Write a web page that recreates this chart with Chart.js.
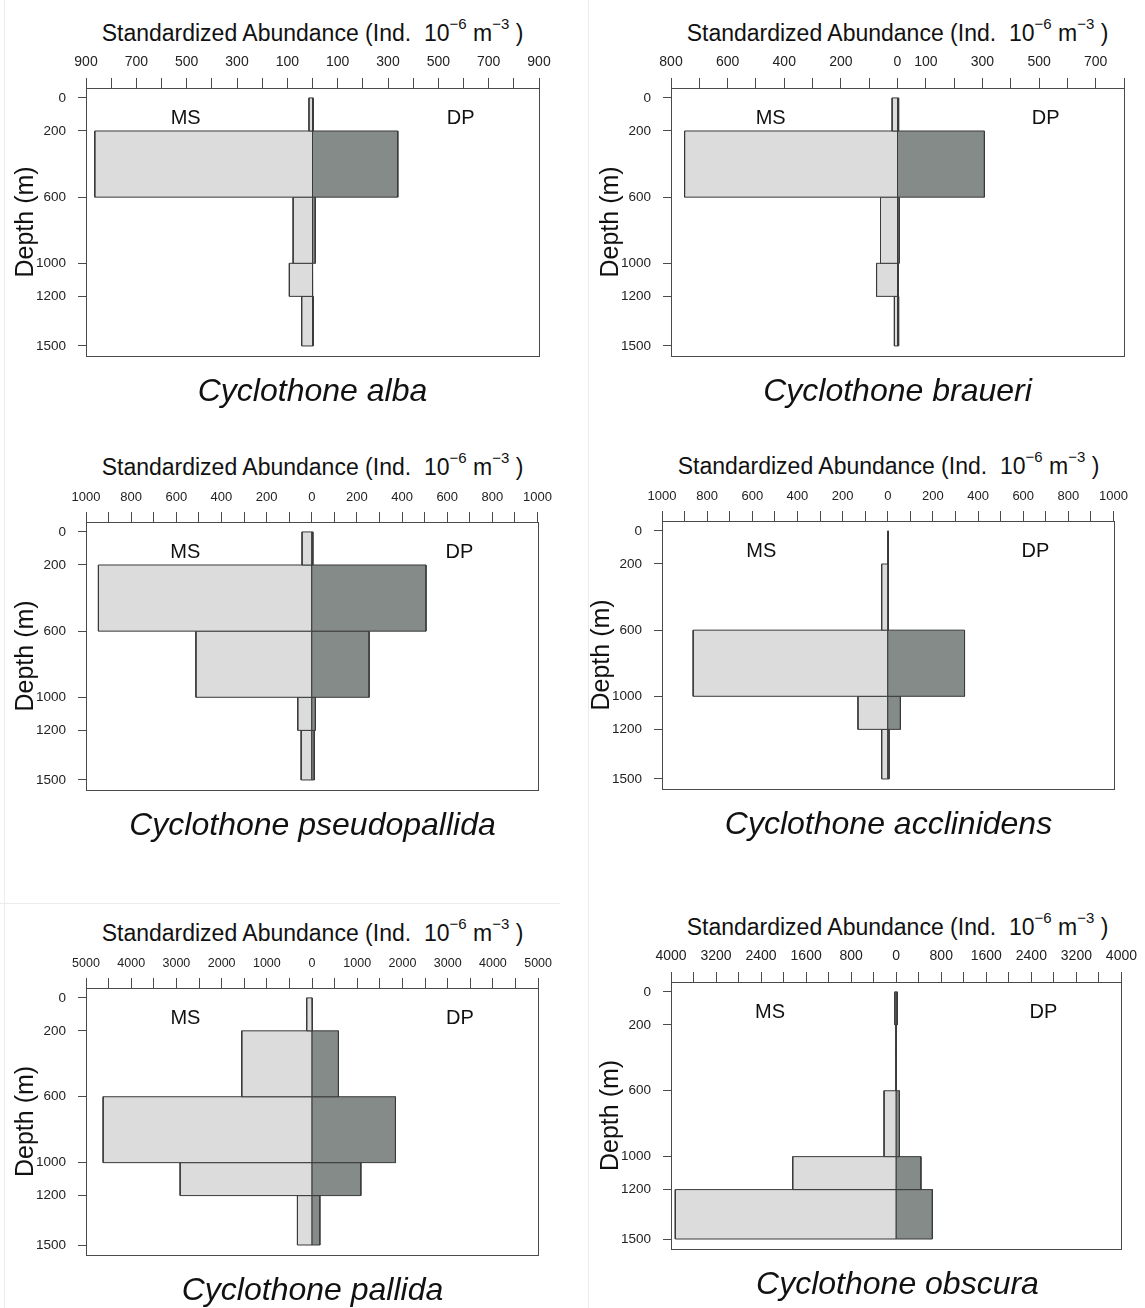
<!DOCTYPE html>
<html>
<head>
<meta charset="utf-8">
<script src="https://cdn.jsdelivr.net/npm/chart.js@4.4.0/dist/chart.umd.min.js"></script>
<style>
  body { margin: 0; background: #fff; width: 1145px; height: 1308px; position: relative; overflow: hidden;
         font-family: "Liberation Sans", Arial, sans-serif; color: #111; }
  canvas { position: absolute; }
  .title { position: absolute; font-size: 23px; line-height: 23px; white-space: nowrap; transform: translateX(-50%); }
  .title sup { font-size: 15px; line-height: 0; position: relative; top: -3px; vertical-align: super; }
  .species { position: absolute; font-size: 32px; line-height: 32px; font-style: italic; white-space: nowrap; transform: translateX(-50%); }
  .sep { position: absolute; background: #ececec; }
</style>
</head>
<body>
<script>
// Depth strata (m) and the tick marks of the depth axis
const depthTop = [0, 200, 600, 1000, 1200];
const depthBottom = [200, 600, 1000, 1200, 1500];
const depthTicks = [0, 200, 600, 1000, 1200, 1500];

const speciesNames = ['Cyclothone alba', 'Cyclothone braueri', 'Cyclothone pseudopallida',
                      'Cyclothone acclinidens', 'Cyclothone pallida', 'Cyclothone obscura'];

// Standardized abundance per stratum, MS on the left, DP on the right
const albaMS = [14, 865, 77, 92, 43];
const albaDP = [3, 339, 11, 1, 3];
const braueriMS = [19, 752, 60, 74, 11];
const braueriDP = [4, 307, 6, 3, 4];
const pseudopallidaMS = [43, 945, 513, 62, 47];
const pseudopallidaDP = [5, 506, 254, 16, 11];
const acclinidensMS = [2, 27, 862, 132, 27];
const acclinidensDP = [3, 3, 340, 56, 6];
const pallidaMS = [118, 1554, 4621, 2918, 323];
const pallidaDP = [16, 584, 1845, 1080, 173];
const obscuraMS = [25, 5, 216, 1838, 3924];
const obscuraDP = [20, 5, 57, 439, 642];

// Abundance axes: half range, tick spacing and the ticks that carry a label
const axisLimits = [900, 800, 1000, 1000, 5000, 4000];
const axisSteps = [100, 100, 100, 100, 500, 400];
const albaTickLabels = [-900, -700, -500, -300, -100, 100, 300, 500, 700, 900];
const braueriTickLabels = [-800, -600, -400, -200, 0, 100, 300, 500, 700];
const pseudopallidaTickLabels = [-1000, -800, -600, -400, -200, 0, 200, 400, 600, 800, 1000];
const acclinidensTickLabels = [-1000, -800, -600, -400, -200, 0, 200, 400, 600, 800, 1000];
const pallidaTickLabels = [-5000, -4000, -3000, -2000, -1000, 0, 1000, 2000, 3000, 4000, 5000];
const obscuraTickLabels = [-4000, -3200, -2400, -1600, -800, 0, 800, 1600, 2400, 3200, 4000];

const msSeries = [albaMS, braueriMS, pseudopallidaMS, acclinidensMS, pallidaMS, obscuraMS];
const dpSeries = [albaDP, braueriDP, pseudopallidaDP, acclinidensDP, pallidaDP, obscuraDP];
const tickLabelSets = [albaTickLabels, braueriTickLabels, pseudopallidaTickLabels,
                       acclinidensTickLabels, pallidaTickLabels, obscuraTickLabels];

// Page layout: plot box of every panel
const boxes = [
  { left: 86, top: 88, w: 453, h: 278 },
  { left: 671, top: 88, w: 453, h: 278 },
  { left: 86, top: 522, w: 453, h: 278 },
  { left: 662, top: 521, w: 453, h: 278 },
  { left: 86, top: 988, w: 453, h: 277 },
  { left: 671, top: 982, w: 453, h: 277 }
];
const tickFontSizes = [14, 14, 13, 13, 12.5, 14];

const FONT = '"Liberation Sans", Arial, sans-serif';
Chart.defaults.font.family = FONT;

const MS_FILL = '#dcdcdc';
const DP_FILL = '#848b89';
const EDGE = '#3a3a3a';
const AXIS_W = 86;   // room left of the box for depth labels and axis title
const AXIS_H = 40;   // room above the box for the abundance ticks

// Closed outline of one stratum bar, from zero out to the abundance value
function barOutline(value, top, bottom) {
  return [
    { x: 0, y: top }, { x: value, y: top }, { x: value, y: bottom },
    { x: 0, y: bottom }, { x: 0, y: top }
  ];
}

// Plot frame plus the MS / DP side labels
const framePlugin = {
  id: 'frame',
  afterDatasetsDraw(chart) {
    const { ctx, chartArea: a, scales } = chart;
    ctx.save();
    ctx.strokeStyle = '#4a4a4a';
    ctx.lineWidth = 1;
    ctx.strokeRect(Math.round(a.left) + 0.5, Math.round(a.top) + 0.5,
                   Math.round(a.right - a.left), Math.round(a.bottom - a.top));
    const x = scales.x;
    const y = scales.y;
    ctx.fillStyle = '#111';
    ctx.font = '20px ' + FONT;
    ctx.textAlign = 'center';
    ctx.textBaseline = 'middle';
    const span = x.max - x.min;
    ctx.fillText('MS', x.getPixelForValue(x.min + 0.22 * span), y.getPixelForValue(122));
    ctx.fillText('DP', x.getPixelForValue(x.min + 0.827 * span), y.getPixelForValue(122));
    ctx.restore();
  }
};

function addText(cls, html, left, top) {
  const d = document.createElement('div');
  d.className = cls;
  d.innerHTML = html;
  d.style.left = left + 'px';
  d.style.top = top + 'px';
  document.body.appendChild(d);
}

function addSep(left, top, w, h) {
  const d = document.createElement('div');
  d.className = 'sep';
  Object.assign(d.style, { left: left + 'px', top: top + 'px', width: w + 'px', height: h + 'px' });
  document.body.appendChild(d);
}

addSep(4, 0, 1, 1308);
addSep(588, 0, 1, 1308);
addSep(0, 903, 560, 1);

boxes.forEach((box, i) => {
  const lim = axisLimits[i];
  const labelled = tickLabelSets[i];

  const canvas = document.createElement('canvas');
  const cw = AXIS_W + box.w + 20;
  const ch = AXIS_H + box.h + 10;
  canvas.width = cw;
  canvas.height = ch;
  canvas.style.left = (box.left - AXIS_W) + 'px';
  canvas.style.top = (box.top - AXIS_H) + 'px';
  canvas.style.width = cw + 'px';
  canvas.style.height = ch + 'px';
  document.body.appendChild(canvas);

  const datasets = [];
  depthTop.forEach((top, k) => {
    datasets.push({
      label: 'DP ' + top + '-' + depthBottom[k],
      data: barOutline(dpSeries[i][k], top, depthBottom[k]),
      backgroundColor: DP_FILL
    });
    datasets.push({
      label: 'MS ' + top + '-' + depthBottom[k],
      data: barOutline(-msSeries[i][k], top, depthBottom[k]),
      backgroundColor: MS_FILL
    });
  });
  datasets.forEach(ds => Object.assign(ds, {
    showLine: true, fill: 'shape', borderColor: EDGE, borderWidth: 1,
    pointRadius: 0, tension: 0, clip: false
  }));

  new Chart(canvas, {
    type: 'scatter',
    data: { datasets },
    options: {
      responsive: false,
      animation: false,
      events: [],
      layout: { padding: { left: 0, top: 0, right: 20, bottom: 10 } },
      plugins: { legend: { display: false }, tooltip: { enabled: false } },
      scales: {
        x: {
          type: 'linear', position: 'top', min: -lim, max: lim,
          grid: { drawOnChartArea: false, drawTicks: true, tickLength: 10, color: '#4a4a4a', tickColor: '#4a4a4a' },
          border: { display: false },
          ticks: {
            stepSize: axisSteps[i], autoSkip: false, maxRotation: 0, minRotation: 0, padding: 7,
            color: '#222', font: { size: tickFontSizes[i] },
            callback: v => labelled.includes(v) ? String(Math.abs(v)) : ''
          },
          afterFit: s => { s.height = AXIS_H; }
        },
        y: {
          type: 'linear', reverse: true, min: -60, max: 1560,
          afterBuildTicks: s => { s.ticks = depthTicks.map(v => ({ value: v })); },
          grid: { drawOnChartArea: false, tickLength: 8, color: '#4a4a4a', tickColor: '#4a4a4a' },
          border: { display: false },
          ticks: { padding: 12, color: '#222', font: { size: 13.5 }, autoSkip: false, callback: v => String(v) },
          title: { display: true, text: 'Depth (m)', color: '#111', font: { size: 25 }, padding: { top: 11, bottom: 0 } },
          afterFit: s => { s.width = AXIS_W; }
        }
      }
    },
    plugins: [framePlugin]
  });

  const cx = box.left + box.w / 2;
  addText('title', 'Standardized Abundance (Ind.&nbsp; 10<sup>\u22126</sup> m<sup>\u22123</sup> )',
          cx, box.top - 47 - 19.5);
  addText('species', speciesNames[i], cx, box.top + box.h + 35 - 27.1);
});
</script>
</body>
</html>
